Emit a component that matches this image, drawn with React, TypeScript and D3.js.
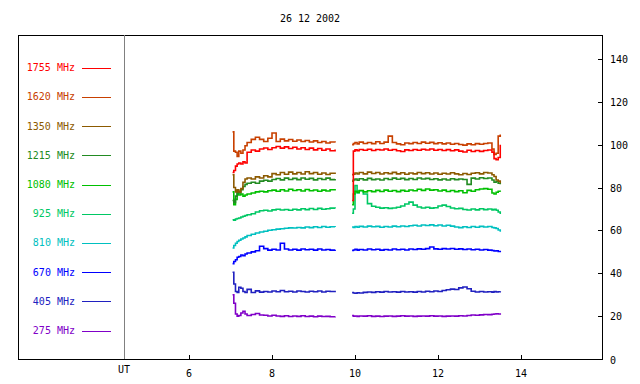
import React from "react";
import * as d3 from "d3";

// UT hours for the two observing blocks
const times1 = [7.05, 7.08, 7.12, 7.16, 7.2, 7.25, 7.3, 7.35, 7.4, 7.5, 7.6, 7.7, 7.8, 7.9, 8.0, 8.1, 8.2, 8.3, 8.4, 8.5, 8.6, 8.7, 8.8, 8.9, 9.0, 9.1, 9.2, 9.3, 9.4, 9.52];
const times2 = [9.93, 9.96, 10.0, 10.05, 10.1, 10.2, 10.3, 10.4, 10.5, 10.6, 10.7, 10.8, 10.9, 11.0, 11.1, 11.2, 11.3, 11.4, 11.5, 11.6, 11.7, 11.8, 11.9, 12.0, 12.1, 12.2, 12.3, 12.4, 12.5, 12.6, 12.7, 12.8, 12.9, 13.0, 13.1, 13.2, 13.3, 13.35, 13.4, 13.45, 13.5];

const f1755a = [87, 88, 90, 91, 91.5, 91, 92, 91.5, 96.5, 97.5, 97, 98, 98.5, 97.8, 98.6, 99.2, 98.4, 99, 98.2, 98.8, 98, 98.6, 97.8, 98.4, 97.6, 98.2, 97.4, 98, 97.2, 97.8];
const f1755b = [74, 97, 97.6, 97.2, 97.8, 97.4, 97.9, 97.3, 97.8, 97.5, 98, 97.4, 97.8, 97.2, 96.8, 97.6, 97.3, 97.8, 97.4, 97.9, 97.5, 98, 97.4, 97.8, 97.3, 97.7, 97.2, 97.6, 97, 96.6, 97.4, 96.8, 97.3, 96.9, 97.3, 97.5, 96.5, 93.5, 93, 94, 100];
const f1620a = [106, 97, 96.5, 94.5, 97, 96, 97.5, 99.5, 101, 102.5, 103.5, 102.5, 101.5, 103, 105.5, 101.5, 102.6, 101.8, 102.4, 101.6, 102.2, 101.5, 102, 101.3, 101.8, 101, 101.5, 100.8, 101.3, 101];
const f1620b = [100, 100.5, 101, 100.4, 101.2, 100.6, 101, 100.5, 101.4, 100.6, 101.2, 104, 101, 100.4, 100, 100.8, 100.5, 101, 100.6, 101.2, 100.7, 101.1, 100.5, 100.9, 100.4, 100.8, 100.2, 100.6, 100.1, 99.8, 100.4, 100, 100.5, 100.2, 100.6, 100.8, 98, 95.5, 96, 104, 104.8];
const f1350a = [86, 80, 78, 79, 78, 79.5, 82.5, 84, 84.5, 84, 85, 84.5, 85.5, 85, 86.5, 86, 87, 86.2, 87.2, 86.4, 87, 86.3, 87.4, 86.5, 87, 86.2, 86.8, 86.1, 86.7, 86.3];
const f1350b = [86, 86.2, 86.8, 86.3, 87, 86.4, 87.2, 86.6, 87, 86.3, 86.9, 86.5, 87.1, 86.4, 86.9, 86.2, 86.8, 86.4, 87, 86.5, 86.9, 86.3, 86.8, 86.2, 86.7, 86.3, 86.9, 86.4, 86, 86.6, 86.1, 86.7, 86.9, 86.4, 87, 86.8, 86, 85.2, 83.5, 83, 82];
const f1215a = [74, 73, 76, 78.5, 77.5, 79, 80.5, 81.5, 82, 82.5, 82, 83, 83.4, 83, 83.8, 84.2, 83.6, 84.4, 83.8, 84.3, 83.7, 84.5, 83.9, 84.3, 83.6, 84.2, 83.8, 84.4, 83.7, 84];
const f1215b = [83, 83.5, 84, 83.4, 84.1, 83.6, 84.3, 83.7, 84, 83.5, 84.2, 83.8, 84.4, 83.9, 84.3, 83.7, 84.2, 83.8, 84.5, 84, 84.3, 83.8, 84.1, 83.6, 84, 83.5, 84.1, 83.7, 84, 83.8, 81.5, 84.4, 84, 84.6, 84.2, 84.5, 83.5, 82.5, 82.8, 82, 81.5];
const f1080a = [78, 72, 74.5, 77.5, 76.5, 77, 76, 76.5, 77, 77.5, 78, 78.3, 78, 78.5, 78.8, 78.3, 79, 78.4, 79.2, 78.6, 79, 78.4, 79.1, 78.5, 78.9, 78.3, 78.8, 78.4, 79, 78.6];
const f1080b = [72, 77, 78.3, 77.8, 78.6, 78, 78.5, 78.1, 78.7, 78.2, 78.8, 78.3, 78.6, 78.1, 78.7, 78.3, 78.9, 78.5, 79.2, 78.7, 79.3, 78.8, 79, 78.4, 78.8, 78.2, 78.6, 78.1, 78.5, 77.6, 78.7, 78.3, 79, 79.3, 79.5, 79.2, 77.5, 77, 77.8, 78.3, 78];
const f925a = [65, 64.8, 65.3, 65.6, 65.8, 66.3, 66.6, 67, 67.3, 67.8, 68.6, 69.2, 69.4, 69.1, 69.6, 69.9, 69.5, 69.8, 69.4, 69.9, 69.6, 70.1, 69.7, 70.2, 69.8, 70.3, 69.9, 70.1, 70.4, 70.2];
const f925b = [68, 70, 81, 77.5, 78.5, 77, 72.5, 71.3, 70.8, 70.4, 70.6, 70.3, 70.5, 70.8, 71.4, 72.3, 73.2, 71.8, 70.9, 70.5, 70.8, 70.4, 70.6, 71.4, 71.8, 71.2, 70.5, 70.1, 70.3, 69.8, 69.5, 70, 69.6, 70.1, 69.7, 70, 69.6, 69.9, 69.4, 68.6, 67.7];
const f810a = [51.8, 53, 54, 54.8, 55.4, 56, 56.5, 57, 57.6, 58.2, 58.8, 59.3, 59.6, 60.1, 60.3, 60.6, 60.8, 61, 61.2, 61.1, 61.4, 61.2, 61.6, 61.3, 61.7, 61.4, 61.8, 61.5, 61.7, 61.6];
const f810b = [61.6, 61.4, 61.8, 61.5, 61.9, 61.6, 62, 61.7, 61.9, 61.5, 61.8, 61.6, 62, 61.7, 62.1, 61.8, 62.2, 62.4, 62.1, 62.5, 62.3, 62.6, 62.2, 62.5, 62.1, 62.4, 62, 61.6, 61.3, 61.7, 61.4, 61.8, 61.5, 61.9, 61.6, 61.8, 61.4, 61.2, 60.9, 60.2, 59.4];
const f670a = [44.5, 45.5, 46.3, 47.5, 47.8, 48.5, 48.2, 49, 49.5, 50, 50.5, 52.6, 51.5, 50.8, 51.2, 50.9, 54, 51.3, 50.9, 51.2, 50.8, 51.3, 51, 51.2, 50.8, 51.3, 50.9, 51.1, 50.8, 51];
const f670b = [50.6, 50.9, 51.2, 50.8, 51.1, 50.9, 51.3, 51, 51.2, 50.8, 51.1, 50.9, 51.3, 51, 51.2, 50.9, 51.3, 51.1, 51.4, 51.2, 51.5, 52.3, 51.4, 51.2, 51.5, 51.3, 51.6, 51.2, 51.4, 51.1, 51.3, 51, 51.2, 50.9, 51.1, 50.8, 50.6, 50.4, 50.5, 50.2, 49.8];
const f405a = [40.5, 35, 31.5, 31, 33.5, 33, 31.5, 31, 32.5, 31, 31.8, 31.2, 31.5, 31.3, 31.7, 31.4, 32, 31.4, 31.6, 31.3, 31.7, 31.5, 31.3, 31.6, 31.4, 31.7, 31.3, 31.6, 31.5, 31.2];
const f405b = [31, 30.8, 30.7, 30.9, 30.8, 31.1, 31.3, 31.1, 31.4, 31.2, 31.5, 31.3, 31.4, 31.2, 31.5, 31.3, 31.4, 31.2, 31.5, 31.3, 31.6, 31.4, 31.7, 31.5, 32, 32.3, 32.6, 32.4, 33.2, 33.6, 32.8, 31.6, 31.3, 31.5, 31.3, 31.4, 31.2, 31.5, 31.3, 31.4, 31.6];
const f275a = [30, 26, 21, 20, 20.3, 21.5, 22.3, 21, 20.3, 20.8, 21.2, 20.5, 20.4, 20.1, 20.4, 20.1, 19.9, 20.2, 19.8, 20.1, 19.9, 20.2, 19.8, 20, 19.7, 20, 19.8, 19.9, 19.7, 19.8];
const f275b = [20.3, 20, 20.1, 19.9, 20.1, 20, 20.2, 19.9, 20, 19.8, 20, 20.1, 19.9, 20, 20.2, 20, 20.1, 19.9, 20, 20.1, 20, 20.2, 20, 20.1, 19.9, 20, 20.1, 20, 20.2, 20.1, 20.3, 20.5, 20.4, 20.6, 20.8, 20.7, 20.9, 21, 21.1, 21, 21.3];

const freqs = ["1755", "1620", "1350", "1215", "1080", "925", "810", "670", "405", "275"];
const colors = ["#ff0000", "#c84000", "#8c5a00", "#228b22", "#00c000", "#00c864", "#00c0c0", "#0000ff", "#2020c0", "#8000c8"];
const seg1 = [f1755a, f1620a, f1350a, f1215a, f1080a, f925a, f810a, f670a, f405a, f275a];
const seg2 = [f1755b, f1620b, f1350b, f1215b, f1080b, f925b, f810b, f670b, f405b, f275b];

const xTicks = [6, 8, 10, 12, 14];
const yTicks = [0, 20, 40, 60, 80, 100, 120, 140];
const title = "26 12 2002";

const left = 18, top = 35, right = 602, bottom = 359, utX = 124;
const font = "DejaVu Sans Mono";

export default function App() {
  const x = d3.scaleLinear().domain([6, 14]).range([189, 521]);
  const y = d3.scaleLinear().domain([0, 140]).range([bottom, 59]);
  const line = d3.line<[number, number]>()
    .x(d => x(d[0]))
    .y(d => y(d[1]))
    .curve(d3.curveStepAfter);
  const legendY = d3.scaleLinear().domain([0, 9]).range([67.7, 330.5]);

  const order = d3.range(freqs.length).reverse(); // red drawn last

  return (
    <svg width={640} height={384} style={{ position: "absolute", left: 0, top: 0, background: "#fff" }}
      fontFamily={font} fontSize={10}>
      <text x={310} y={22} textAnchor="middle">{title}</text>

      <rect x={left + 0.5} y={top + 0.5} width={right - left} height={bottom - top} fill="none" stroke="#000" shapeRendering="crispEdges" />
      <line x1={utX + 0.5} x2={utX + 0.5} y1={top} y2={bottom} stroke="#808080" shapeRendering="crispEdges" />

      {xTicks.map(t => (
        <g key={t}>
          <line x1={Math.round(x(t)) + 0.5} x2={Math.round(x(t)) + 0.5} y1={bottom} y2={bottom - 4} stroke="#000" shapeRendering="crispEdges" />
          <text x={x(t)} y={377} textAnchor="middle">{t}</text>
        </g>
      ))}
      <text x={utX} y={373} textAnchor="middle">UT</text>

      {yTicks.map(v => (
        <g key={v}>
          {v > 0 && <line x1={right - 4} x2={right} y1={Math.round(y(v)) + 0.5} y2={Math.round(y(v)) + 0.5} stroke="#000" shapeRendering="crispEdges" />}
          <text x={610} y={y(v) + (v === 0 ? 5 : 4)}>{v}</text>
        </g>
      ))}

      {freqs.map((f, i) => (
        <g key={f}>
          <text x={75} y={legendY(i) + 3.5} textAnchor="end" fill={colors[i]}>{f} MHz</text>
          <line x1={82} x2={111} y1={Math.round(legendY(i)) + 0.5} y2={Math.round(legendY(i)) + 0.5} stroke={colors[i]} shapeRendering="crispEdges" />
        </g>
      ))}

      {order.map(i => (
        <g key={freqs[i]} fill="none" stroke={colors[i]} strokeWidth={1.6}>
          <path d={line(times1.map((t, k) => [t, seg1[i][k]] as [number, number])) || ""} />
          <path d={line(times2.map((t, k) => [t, seg2[i][k]] as [number, number])) || ""} />
        </g>
      ))}
    </svg>
  );
}
